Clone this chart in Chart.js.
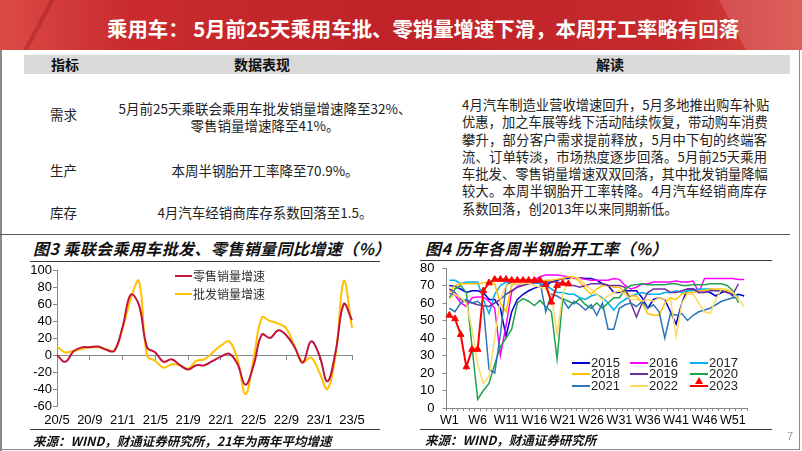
<!DOCTYPE html>
<html lang="zh-CN">
<head>
    <meta charset="UTF-8">
    <title>乘用车：5月前25天乘用车批、零销量增速下滑</title>
    <script src="https://cdn.jsdelivr.net/npm/chart.js"></script>
    <style>
        body { margin: 0; width: 802px; height: 451px; position: relative; overflow: hidden; background: #fff;
               font-family: "Noto Sans CJK SC", sans-serif; color: #222; }
        .abs { position: absolute; white-space: nowrap; }
        #banner { left: 0; top: 0; width: 802px; height: 50px;
            background:
                linear-gradient(118deg, transparent 0 6%, rgba(110,0,0,0.22) 6% 6.6%, transparent 6.6% 100%),
                linear-gradient(62deg, transparent 0 90%, rgba(255,255,255,0.14) 90% 100%),
                linear-gradient(90deg, #dc4b46 0%, #c92b2e 16%, #bf2328 50%, #c52a2d 84%, #d8463f 100%); }
        #banner h1 { position: absolute; left: 107px; top: 14px; margin: 0; line-height: 28px; font-size: 20.4px;
                     font-weight: 700; color: #fff; white-space: nowrap; }
        .th { top: 55px; line-height: 19px; font-size: 14px; font-weight: 700; color: #111; text-align: center; }
        .td { font-size: 13.5px; line-height: 18px; color: #222; }
        .para { left: 462px; top: 96px; width: 305px; font-size: 13.3px; color: #222; }
        .para div { height: 17.3px; line-height: 17.3px; text-align: justify; text-align-last: justify; white-space: nowrap; }
        .para div.last { text-align-last: left; }
        .rule { position: absolute; height: 0; border-top: 1.5px solid #3a3a3a; }
        .ctitle { font-size: 16px; line-height: 22px; font-weight: 700; font-style: italic; letter-spacing: 0.4px; color: #111; }
        .src { font-size: 12.5px; line-height: 18px; font-weight: 700; font-style: italic; color: #111; }
        canvas { position: absolute; }
        .lg { position: absolute; height: 12px; line-height: 12px; white-space: nowrap; z-index: 2; }
        .lg .sw { position: absolute; left: 0; top: 5px; height: 2px; }
        .lg .tx { position: absolute; top: 0; }
        .tri { position: absolute; top: -3px; width: 0; height: 0; border-left: 4px solid transparent;
               border-right: 4px solid transparent; border-bottom: 7px solid #ff0000; }
    </style>
</head>
<body>
    <div id="banner" class="abs"><h1>乘用车：&nbsp;5月前25天乘用车批、零销量增速下滑，本周开工率略有回落</h1></div>

    <div class="abs" style="left:24px;top:55px;width:766px;height:19px;background:#d9d9d9"></div>
    <div class="abs th" style="left:25px;width:80px">指标</div>
    <div class="abs th" style="left:182px;width:160px">数据表现</div>
    <div class="abs th" style="left:560px;width:100px">解读</div>

    <div class="abs td" style="left:50px;top:105px">需求</div>
    <div class="abs td" style="left:50px;top:161px">生产</div>
    <div class="abs td" style="left:50px;top:203px">库存</div>

    <div class="abs td" style="left:115px;top:99px;width:300px;text-align:center">5月前25天乘联会乘用车批发销量增速降至32%、</div>
    <div class="abs td" style="left:115px;top:116px;width:300px;text-align:center">零售销量增速降至41%。</div>
    <div class="abs td" style="left:115px;top:161px;width:300px;text-align:center">本周半钢胎开工率降至70.9%。</div>
    <div class="abs td" style="left:115px;top:203px;width:300px;text-align:center">4月汽车经销商库存系数回落至1.5。</div>

    <div class="abs para">
        <div>4月汽车制造业营收增速回升，5月多地推出购车补贴</div>
        <div>优惠，加之车展等线下活动陆续恢复，带动购车消费</div>
        <div>攀升，部分客户需求提前释放，5月中下旬的终端客</div>
        <div>流、订单转淡，市场热度逐步回落。5月前25天乘用</div>
        <div>车批发、零售销量增速双双回落，其中批发销量降幅</div>
        <div>较大。本周半钢胎开工率转降。4月汽车经销商库存</div>
        <div class="last">系数回落，创2013年以来同期新低。</div>
    </div>

    <!-- frame -->
    <div class="abs" style="left:0;top:50px;width:1.5px;height:401px;background:#8a8a8a"></div>
    <div class="abs" style="left:798.5px;top:50px;width:1.5px;height:400px;background:#8a8a8a"></div>
    <div class="abs" style="left:0;top:448.5px;width:800px;height:1.5px;background:#8a8a8a"></div>
    <div class="rule" style="left:0;top:234px;width:790px;border-top-color:#5a5a5a"></div>

    <!-- left panel -->
    <div class="abs ctitle" style="left:33px;top:237px">图3 乘联会乘用车批发、零售销量同比增速（%）</div>
    <div class="rule" style="left:30px;top:261px;width:350px"></div>
    <canvas id="salesChart" width="400" height="172" style="left:0;top:262px"></canvas>
    <div id="salesLegend"></div>
    <div class="rule" style="left:30px;top:429px;width:350px"></div>
    <div class="abs src" style="left:33px;top:432px">来源：WIND，财通证券研究所，21年为两年平均增速</div>

    <!-- right panel -->
    <div class="abs ctitle" style="left:425px;top:237px">图4 历年各周半钢胎开工率（%）</div>
    <div class="rule" style="left:420px;top:260px;width:352px"></div>
    <canvas id="tireChart" width="400" height="172" style="left:400px;top:262px"></canvas>
    <div id="tireLegend"></div>
    <div class="rule" style="left:420px;top:429px;width:352px"></div>
    <div class="abs src" style="left:425px;top:431px">来源：WIND，财通证券研究所</div>
    <div class="abs" style="left:787px;top:430px;font-size:11px;color:#999;font-family:'Liberation Sans',Arial">7</div>

    <script>
        // 图3：乘联会月度同比增速（%）
        const monthLabels = ['20/5', '20/6', '20/7', '20/8', '20/9', '20/10', '20/11', '20/12',
            '21/1', '21/2', '21/3', '21/4', '21/5', '21/6', '21/7', '21/8', '21/9', '21/10', '21/11', '21/12',
            '22/1', '22/2', '22/3', '22/4', '22/5', '22/6', '22/7', '22/8', '22/9', '22/10', '22/11', '22/12',
            '23/1', '23/2', '23/3', '23/4', '23/5'];
        const retailGrowth = [0, -8, 4, 9, 9, 10, 6, 5, 33, 71, 59, 9, 3, -8, -5, -12, -17, -12, -12, -7,
            -2, 1.5, -10, -35, -12, 24, 20, 29, 23, 9, -9, 16, 0, -31, 4, 60, 41];
        const wholesaleGrowth = [10, 3, 5, 7, 9, 9, 7, 5, 31, 66, 87, -1, -7, -15, -11, -12, -16, -7, -5, 3,
            11, 16, -4, -46, -4, 44, 40, 37, 31, 10, -8, -3, -20, -40, 0, 87, 32];
        const salesNames = ['零售销量增速', '批发销量增速'];

        // 图4：半钢胎周度开工率（%）
        const weekLabels = Array.from({length: 53}, (_, i) => 'W' + (i + 1));
        const tireYears = ['2015', '2016', '2017', '2018', '2019', '2020', '2021', '2022', '2023'];
        const tire2015 = [70, 69.5, 68, 66, 67, 67, 66, 62, 62, 57, 41, 55, 62, 65, 67, 68.5, 69.5, 70, 72, 73,
            74, 74, 74.5, 74.5, 74, 74, 73, 71, 70, 66, 66, 67, 67, 67, 63, 57, 62, 63, 62, 55,
            48, 60, 68, 68, 67, 67, 66, 64, 66, 67, 64, 65, 64];
        const tire2016 = [65.5, 64.5, 60, 58, 63, 63.5, 63.5, 61, 57, 30, 47, 66.5, 69.5, 70.5, 71.5, 73, 75, 76, 76, 76,
            75.5, 75, 74, 74, 73.5, 73, 73, 73, 73, 74, 73.5, 70, 68, 69, 71, 71, 72, 72, 72, 72,
            72.5, 72, 72, 72.5, 66, 74, 74, 74, 74, 74, 74, 73.5, 73.5];
        const tire2017 = [73, 73, 71, 72, 72, 72, 62, 54, 65, 70, 72, 71, 71, 71, 71.5, 71.5, 71, 70, 68, 66,
            66, 65, 65, 63, 62, 64, 65, 63, 60, 56, 60, 62, 64, 65, 66, 65, 65, 65, 66, 66,
            67, 66, 67, 67, 68, 68, 68, 67, 67, 66, 65, 64];
        const tire2018 = [66, 70, 71, 71, 71, 71, 71.5, 72, 71, 60, 55, 70, 72, 72.5, 72.5, 72, 72, 73, 73, 73.5,
            74, 75, 75, 72, 68, 65, 68, 70, 70, 69, 69, 66, 64, 64, 60, 54, 53, 53, 60, 63,
            62, 65, 66, 66, 67, 67, 68, 68, 68, 67, 65, 63];
        const tire2019 = [68, 66, 62, 61, 60, 59, 58.5, 58, 60, 62, 65, 67, 69, 70, 71, 71.5, 72, 72, 72, 72,
            71, 70, 70, 69, 70, 71, 71, 71, 70, 70, 70, 69, 60, 52, 60, 66, 68, 68, 68, 66,
            66, 67, 68, 68, 66, 66, 67, 67, 67, 66, 65, 71];
        const tire2020 = [63, 68, 70, 66, 35, 5, 10, 14, 25, 35, 40, 45, 60, 62.5, 61, 58.5, 61.5, 58, 55, 28,
            62.5, 61, 59.5, 62.5, 59, 57, 60, 57, 60, 63, 63, 68, 70, 70.5, 71, 70.5, 70.5, 70.5, 70.5, 71,
            71, 70, 70, 70.5, 70.5, 70.5, 71, 71, 71, 70, 67, 60];
        const tire2021 = [57, 55, 60, 62, 60, 61, 58, 22, 20, 42, 70, 72, 72.5, 72.5, 73, 73, 72, 55, 65, 64,
            62, 57, 61, 59, 56, 59, 53, 60, 45, 45, 57, 59, 60, 58, 61, 57, 59, 55, 40, 54,
            53, 54, 50, 53, 55, 56, 57, 59, 61, 62, 63, 63];
        const tire2022 = [62, 65, 63, 60, 45, 25, 14, 18, 40, 62, 70, 71, 71, 71, 71.5, 70, 69, 68, 64, 42,
            65, 73, 75, 74, 70, 68, 65, 62, 64, 66, 67, 65, 62, 62, 61, 62, 61, 63, 62, 62,
            41, 60, 65, 65, 60, 55, 54, 62, 68, 68, 66, 62, 58];
        const tire2023 = [53, 51, 42, 23.5, 33.5, 33.5, 67, 71.5, 73.5, 73.5, 73.5, 73, 73, 73, 73, 73, 73, 70.5, 60.5, 70,
            71.3, 70.9];
        const tireSeries = [tire2015, tire2016, tire2017, tire2018, tire2019, tire2020, tire2021, tire2022, tire2023];

        const salesColors = ['#c0143c', '#ffc000'];
        const tireColors = ['#0000d0', '#ff00ff', '#00b0f0', '#ffc000', '#7030a0', '#1ea34f', '#2e75b6', '#ffd966', '#ff0000'];

        Chart.defaults.font.family = '"Liberation Sans", Arial, sans-serif';
        Chart.defaults.color = '#000';

        const axisGray = '#888';

        new Chart(document.getElementById('salesChart'), {
            type: 'line',
            data: {
                labels: monthLabels,
                datasets: [
                    { label: salesNames[0], data: retailGrowth, borderColor: salesColors[0], borderWidth: 2, pointRadius: 0, tension: 0.4 },
                    { label: salesNames[1], data: wholesaleGrowth, borderColor: salesColors[1], borderWidth: 2, pointRadius: 0, tension: 0.4 }
                ]
            },
            options: {
                responsive: false,
                animation: false,
                layout: { padding: { left: 0, right: 48, top: 8, bottom: 6 } },
                plugins: { legend: { display: false }, tooltip: { enabled: false } },
                scales: {
                    x: {
                        type: 'category',
                        offset: false,
                        grid: { display: false, drawTicks: false },
                        border: { display: false },
                        ticks: {
                            autoSkip: false, maxRotation: 0, minRotation: 0, padding: 7,
                            font: { size: 13 },
                            callback: (v, i) => i % 4 === 0 ? monthLabels[i] : ''
                        },
                        afterFit: s => { s.height = 22; s.paddingLeft = 0; s.paddingRight = 0; }
                    },
                    zeroAxis: {
                        axis: 'x',
                        type: 'category',
                        labels: monthLabels,
                        offset: false,
                        position: { y: 0 },
                        ticks: { display: false, autoSkip: false },
                        grid: {
                            drawOnChartArea: false, drawTicks: true, tickLength: 4,
                            color: ctx => ctx.index % 4 === 0 ? axisGray : 'rgba(0,0,0,0)'
                        },
                        border: { color: axisGray, width: 1 }
                    },
                    y: {
                        min: -60, max: 100,
                        ticks: { stepSize: 20, padding: 1, autoSkip: false, font: { size: 13 } },
                        grid: { drawOnChartArea: false, tickLength: 4, color: axisGray },
                        border: { color: axisGray },
                        afterFit: s => { s.width = 57; s.paddingTop = 0; s.paddingBottom = 0; }
                    }
                }
            }
        });

        new Chart(document.getElementById('tireChart'), {
            type: 'line',
            data: {
                labels: weekLabels,
                datasets: tireSeries.map((values, i) => {
                    const isLatest = i === tireSeries.length - 1;
                    return {
                        label: tireYears[i],
                        data: values,
                        borderColor: tireColors[i],
                        backgroundColor: tireColors[i],
                        borderWidth: isLatest ? 2 : 1.5,
                        pointRadius: isLatest ? 3.8 : 0,
                        pointStyle: 'triangle',
                        pointBorderWidth: 1,
                        tension: 0,
                        order: tireSeries.length - i
                    };
                })
            },
            options: {
                responsive: false,
                animation: false,
                layout: { padding: { left: 0, right: 53, top: 6, bottom: 6 } },
                plugins: { legend: { display: false }, tooltip: { enabled: false } },
                scales: {
                    x: {
                        type: 'category',
                        offset: true,
                        grid: { offset: true, drawOnChartArea: false, drawTicks: true, tickLength: 3, color: axisGray },
                        border: { color: axisGray },
                        ticks: {
                            autoSkip: false, maxRotation: 0, minRotation: 0, padding: 2,
                            font: { size: 12.5 },
                            callback: (v, i) => i % 5 === 0 ? weekLabels[i] : ''
                        },
                        afterFit: s => { s.height = 20; s.paddingLeft = 0; s.paddingRight = 0; }
                    },
                    y: {
                        min: 0, max: 80,
                        ticks: { stepSize: 10, padding: 8, autoSkip: false, font: { size: 13 } },
                        grid: { drawOnChartArea: false, tickLength: 4, color: axisGray },
                        border: { color: axisGray },
                        afterFit: s => { s.width = 46.5; s.paddingTop = 0; s.paddingBottom = 0; }
                    }
                }
            }
        });

        // legends drawn as text on top of the canvases
        function addLegendItem(parent, x, y, color, text, fontSize, swatchWidth, marker) {
            const item = document.createElement('div');
            item.className = 'lg';
            item.style.left = x + 'px';
            item.style.top = (y - 6) + 'px';
            item.style.fontSize = fontSize;
            const sw = document.createElement('span');
            sw.className = 'sw';
            sw.style.width = swatchWidth + 'px';
            sw.style.background = color;
            item.appendChild(sw);
            if (marker) {
                const tri = document.createElement('span');
                tri.className = 'tri';
                tri.style.left = (swatchWidth / 2 - 4) + 'px';
                item.appendChild(tri);
            }
            const tx = document.createElement('span');
            tx.className = 'tx';
            tx.style.left = (swatchWidth + 1) + 'px';
            tx.textContent = text;
            item.appendChild(tx);
            parent.appendChild(item);
        }

        const salesLegend = document.getElementById('salesLegend');
        salesNames.forEach((name, i) => {
            addLegendItem(salesLegend, 175, [276, 294][i], salesColors[i], name, '12px', 17, false);
        });
        salesLegend.querySelectorAll('.tx').forEach(el => { el.style.color = '#333'; });

        const tireLegend = document.getElementById('tireLegend');
        tireYears.forEach((year, i) => {
            const x = [572, 630, 690][i % 3];
            const y = [362.5, 374, 385.5][Math.floor(i / 3)];
            addLegendItem(tireLegend, x, y, tireColors[i], year, '13px', 18, i === tireYears.length - 1);
        });
        tireLegend.querySelectorAll('.tx').forEach(el => { el.style.fontFamily = '"Liberation Sans", Arial, sans-serif'; });
    </script>
</body>
</html>
